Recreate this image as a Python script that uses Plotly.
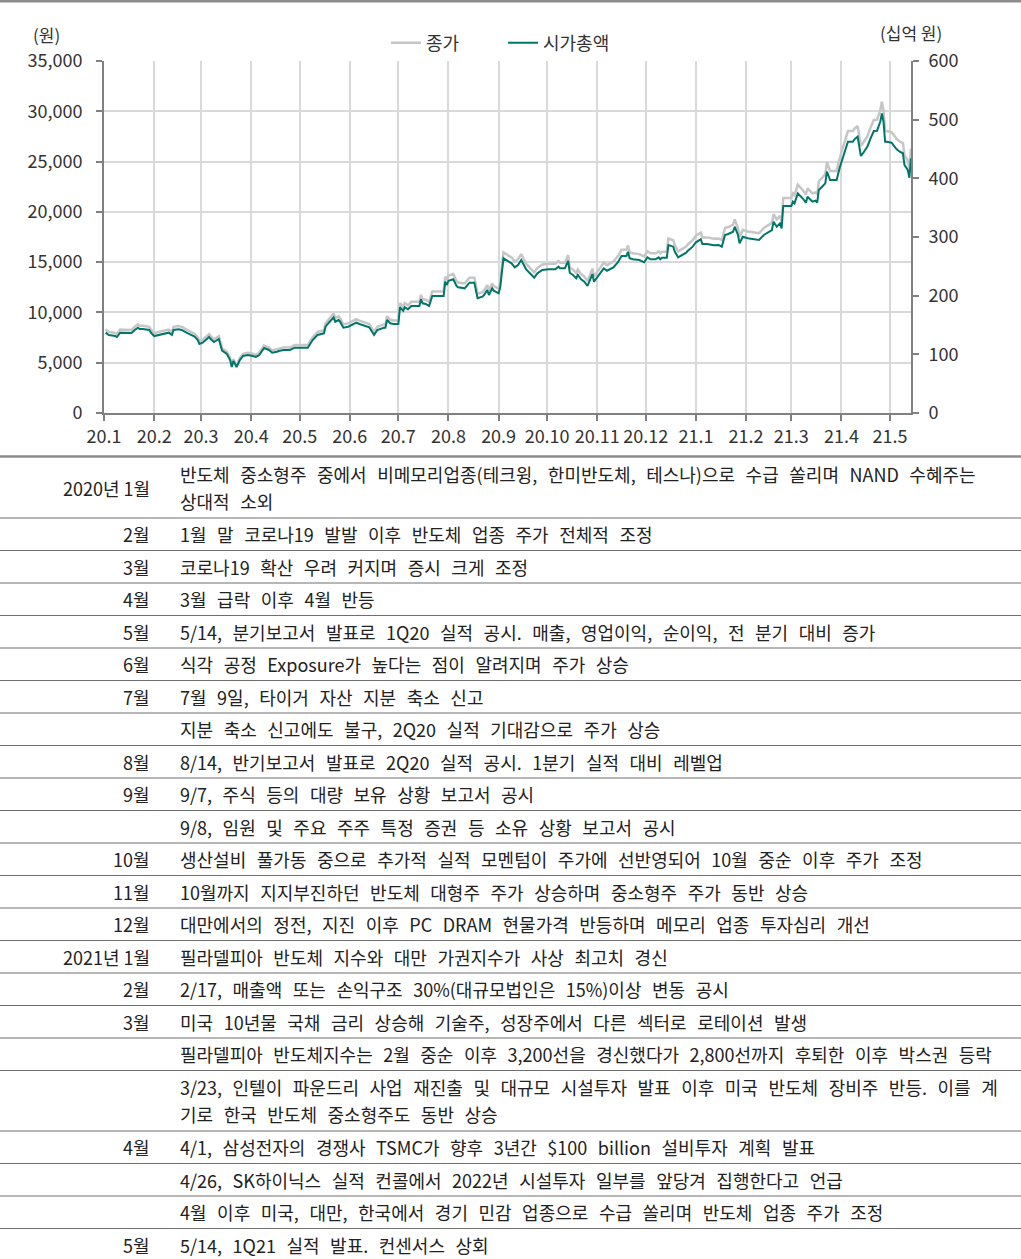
import plotly.graph_objects as go

W, H = 1021, 1259

# ---------------- data ----------------
dates = [
    "2020-01-02", "2020-01-04", "2020-01-08", "2020-01-09", "2020-01-11", "2020-01-14", "2020-01-18", "2020-01-20",
    "2020-01-22", "2020-01-23", "2020-01-25", "2020-01-29", "2020-01-30", "2020-02-01", "2020-02-04", "2020-02-07",
    "2020-02-10", "2020-02-12", "2020-02-13", "2020-02-16", "2020-02-18", "2020-02-21", "2020-02-24", "2020-02-26",
    "2020-02-28", "2020-02-29", "2020-03-02", "2020-03-06", "2020-03-07", "2020-03-09", "2020-03-12", "2020-03-13",
    "2020-03-14", "2020-03-17", "2020-03-19", "2020-03-20", "2020-03-21", "2020-03-23", "2020-03-25", "2020-03-27",
    "2020-03-30", "2020-04-02", "2020-04-04", "2020-04-06", "2020-04-09", "2020-04-12", "2020-04-14", "2020-04-17",
    "2020-04-18", "2020-04-21", "2020-04-23", "2020-04-24", "2020-04-25", "2020-04-28", "2020-05-02", "2020-05-06",
    "2020-05-09", "2020-05-12", "2020-05-16", "2020-05-17", "2020-05-19", "2020-05-22", "2020-05-23", "2020-05-25",
    "2020-05-26", "2020-05-28", "2020-05-31", "2020-06-02", "2020-06-05", "2020-06-07", "2020-06-10", "2020-06-13",
    "2020-06-16", "2020-06-18", "2020-06-22", "2020-06-23", "2020-06-24", "2020-06-26", "2020-06-28", "2020-07-01",
    "2020-07-02", "2020-07-04", "2020-07-05", "2020-07-07", "2020-07-09", "2020-07-11", "2020-07-14", "2020-07-15",
    "2020-07-16", "2020-07-18", "2020-07-20", "2020-07-22", "2020-07-25", "2020-07-29", "2020-07-30", "2020-07-31",
    "2020-08-01", "2020-08-04", "2020-08-06", "2020-08-07", "2020-08-11", "2020-08-14", "2020-08-17", "2020-08-19",
    "2020-08-22", "2020-08-23", "2020-08-25", "2020-08-26", "2020-08-28", "2020-08-29", "2020-09-01", "2020-09-02",
    "2020-09-04", "2020-09-05", "2020-09-07", "2020-09-09", "2020-09-11", "2020-09-13", "2020-09-15", "2020-09-18",
    "2020-09-21", "2020-09-23", "2020-09-25", "2020-09-28", "2020-10-02", "2020-10-06", "2020-10-08", "2020-10-09",
    "2020-10-12", "2020-10-14", "2020-10-15", "2020-10-17", "2020-10-19", "2020-10-20", "2020-10-22", "2020-10-24",
    "2020-10-26", "2020-10-28", "2020-10-29", "2020-10-30", "2020-11-01", "2020-11-03", "2020-11-05", "2020-11-07",
    "2020-11-09", "2020-11-11", "2020-11-14", "2020-11-16", "2020-11-19", "2020-11-20", "2020-11-21", "2020-11-23",
    "2020-11-27", "2020-11-30", "2020-12-02", "2020-12-04", "2020-12-07", "2020-12-09", "2020-12-10", "2020-12-11",
    "2020-12-14", "2020-12-15", "2020-12-18", "2020-12-19", "2020-12-21", "2020-12-24", "2020-12-26", "2020-12-27",
    "2020-12-30", "2021-01-01", "2021-01-04", "2021-01-05", "2021-01-08", "2021-01-12", "2021-01-15", "2021-01-17",
    "2021-01-19", "2021-01-21", "2021-01-24", "2021-01-25", "2021-01-27", "2021-01-28", "2021-01-30", "2021-02-02",
    "2021-02-05", "2021-02-09", "2021-02-12", "2021-02-15", "2021-02-17", "2021-02-18", "2021-02-20", "2021-02-22",
    "2021-02-23", "2021-02-24", "2021-02-26", "2021-03-01", "2021-03-02", "2021-03-03", "2021-03-05", "2021-03-08",
    "2021-03-10", "2021-03-11", "2021-03-14", "2021-03-16", "2021-03-17", "2021-03-18", "2021-03-20", "2021-03-22",
    "2021-03-23", "2021-03-25", "2021-03-27", "2021-03-29", "2021-03-31", "2021-04-03", "2021-04-05", "2021-04-08",
    "2021-04-09", "2021-04-11", "2021-04-13", "2021-04-14", "2021-04-17", "2021-04-19", "2021-04-21", "2021-04-23",
    "2021-04-25", "2021-04-26", "2021-04-27", "2021-04-28", "2021-04-29", "2021-05-02", "2021-05-04", "2021-05-05",
    "2021-05-07", "2021-05-09", "2021-05-10", "2021-05-12", "2021-05-13", "2021-05-14",
]

close_price = [  # 종가 (원)
    8290, 8060, 7950, 7850, 8290, 8260, 8260, 8570, 8810, 8680, 8680, 8570, 8290, 7950, 8060, 8160,
    8290, 8060, 8570, 8650, 8570, 8290, 8060, 7880, 7540, 7130, 7260, 7850, 7640, 7330, 7640, 7020,
    6440, 6090, 5470, 4750, 5370, 4750, 5470, 5890, 5990, 5890, 5780, 5990, 6710, 6510, 6230, 6330,
    6400, 6510, 6510, 6440, 6510, 6750, 6750, 6750, 7540, 8060, 8230, 8910, 9330, 9890, 9430, 9610,
    9430, 8810, 8910, 9090, 9330, 9190, 8990, 8850, 8060, 8570, 8810, 8810, 9610, 9270, 9190, 9190,
    10920, 10570, 10920, 10710, 11050, 11050, 11050, 11750, 11330, 11260, 11050, 12090, 12090, 12090, 13560, 13220,
    13670, 13810, 13120, 12980, 12880, 13460, 13460, 11850, 12010, 12190, 12710, 12190, 12880, 12630, 12370, 12980,
    15980, 15880, 15630, 15460, 15050, 15290, 15800, 14840, 14330, 13980, 14430, 14770, 14840, 14840, 15110, 14950,
    14950, 15700, 14490, 14260, 13910, 14260, 13810, 13560, 13120, 13910, 14360, 13560, 14020, 14430, 14950, 14700,
    14840, 15050, 15630, 16220, 16220, 16660, 15980, 15880, 15800, 15570, 16080, 15880, 15880, 16080, 15880, 16040,
    16040, 17350, 17180, 16660, 16080, 16320, 16560, 16770, 17180, 17630, 17940, 17460, 17460, 17320, 17350, 17180,
    18390, 18490, 18730, 19240, 18390, 17530, 18210, 18050, 17940, 17870, 18390, 18730, 18900, 19760, 19240, 19600,
    19080, 21380, 21380, 21380, 21830, 21660, 22700, 22180, 21720, 22340, 21830, 21930, 21720, 23040, 23380, 23730,
    24930, 24070, 24070, 24070, 25380, 26990, 28030, 28030, 28270, 28540, 26550, 26750, 27510, 28380, 29130, 29160,
    30090, 30960, 30090, 28030, 28030, 27920, 27510, 27270, 26990, 26830, 25620, 25100, 24310, 26310,
]

market_cap = [  # 시가총액 (십억 원)
    136.9, 133.0, 131.2, 129.5, 136.9, 136.4, 136.4, 141.5, 145.4, 143.2, 143.2, 141.5, 136.9, 131.2, 133.0, 134.7,
    136.9, 133.0, 141.5, 142.7, 141.5, 136.9, 133.0, 130.1, 124.4, 117.6, 119.8, 129.5, 126.1, 121.0, 126.1, 115.9,
    106.2, 100.6, 90.3, 78.4, 88.6, 78.4, 90.3, 97.2, 98.9, 97.2, 95.5, 98.9, 110.8, 107.4, 102.8, 104.5,
    105.7, 107.4, 107.4, 106.2, 107.4, 111.3, 111.3, 111.3, 124.4, 133.0, 135.8, 147.1, 153.9, 163.1, 155.6, 158.5,
    155.6, 145.4, 147.1, 150.0, 153.9, 151.7, 148.3, 146.1, 133.0, 141.5, 145.4, 145.4, 158.5, 152.9, 151.7, 151.7,
    180.2, 174.4, 180.2, 176.8, 182.4, 182.4, 182.4, 193.8, 187.0, 185.8, 182.4, 199.4, 199.4, 199.4, 223.8, 218.2,
    225.5, 227.9, 216.5, 214.3, 212.5, 222.1, 222.1, 195.5, 198.2, 201.1, 209.7, 201.1, 212.5, 208.5, 204.0, 214.3,
    263.7, 262.0, 257.9, 255.2, 248.3, 252.3, 260.8, 244.9, 236.4, 230.6, 238.1, 243.7, 244.9, 244.9, 249.4, 246.6,
    246.6, 259.1, 239.1, 235.2, 229.6, 235.2, 227.9, 223.8, 216.5, 229.6, 236.9, 223.8, 231.3, 238.1, 246.6, 242.5,
    244.9, 248.3, 257.9, 267.6, 267.6, 274.9, 263.7, 262.0, 260.8, 256.9, 265.4, 262.0, 262.0, 265.4, 262.0, 264.7,
    264.7, 286.4, 283.5, 274.9, 265.4, 269.3, 273.2, 276.6, 283.5, 291.0, 296.1, 288.1, 288.1, 285.8, 286.4, 283.5,
    303.4, 305.1, 309.0, 317.5, 303.4, 289.3, 300.5, 297.8, 296.1, 294.9, 303.4, 309.0, 311.9, 326.1, 317.5, 323.3,
    314.8, 352.8, 352.8, 352.8, 360.2, 357.4, 374.5, 366.0, 358.5, 368.7, 360.2, 361.9, 358.5, 380.1, 385.7, 391.5,
    411.3, 397.1, 397.1, 397.1, 418.8, 445.4, 462.4, 462.4, 466.5, 471.0, 438.1, 441.5, 453.9, 468.2, 480.7, 481.2,
    496.5, 510.8, 496.5, 462.4, 462.4, 460.7, 453.9, 450.0, 445.4, 442.7, 422.7, 414.2, 401.1, 434.1,
]

month_ticks = [
    "2020-01-01", "2020-02-01", "2020-03-01", "2020-04-01", "2020-05-01", "2020-06-01", "2020-07-01",
    "2020-08-01", "2020-09-01", "2020-10-01", "2020-11-01", "2020-12-01", "2021-01-01", "2021-02-01",
    "2021-03-01", "2021-04-01", "2021-05-01",
]
month_labels = [
    "20.1", "20.2", "20.3", "20.4", "20.5", "20.6", "20.7", "20.8", "20.9", "20.10", "20.11", "20.12",
    "21.1", "21.2", "21.3", "21.4", "21.5",
]

price_ticks = [0, 5000, 10000, 15000, 20000, 25000, 30000, 35000]
cap_ticks = [0, 100, 200, 300, 400, 500, 600]

row_labels = [
    "2020년 1월", "2월", "3월", "4월", "5월", "6월", "7월", "", "8월", "9월", "", "10월", "11월", "12월",
    "2021년 1월", "2월", "3월", "", "", "4월", "", "", "5월",
]
row_texts = [
    ["반도체 중소형주 중에서 비메모리업종(테크윙, 한미반도체, 테스나)으로 수급 쏠리며 NAND 수혜주는", "상대적 소외"],
    ["1월 말 코로나19 발발 이후 반도체 업종 주가 전체적 조정"],
    ["코로나19 확산 우려 커지며 증시 크게 조정"],
    ["3월 급락 이후 4월 반등"],
    ["5/14, 분기보고서 발표로 1Q20 실적 공시. 매출, 영업이익, 순이익, 전 분기 대비 증가"],
    ["식각 공정 Exposure가 높다는 점이 알려지며 주가 상승"],
    ["7월 9일, 타이거 자산 지분 축소 신고"],
    ["지분 축소 신고에도 불구, 2Q20 실적 기대감으로 주가 상승"],
    ["8/14, 반기보고서 발표로 2Q20 실적 공시. 1분기 실적 대비 레벨업"],
    ["9/7, 주식 등의 대량 보유 상황 보고서 공시"],
    ["9/8, 임원 및 주요 주주 특정 증권 등 소유 상황 보고서 공시"],
    ["생산설비 풀가동 중으로 추가적 실적 모멘텀이 주가에 선반영되어 10월 중순 이후 주가 조정"],
    ["10월까지 지지부진하던 반도체 대형주 주가 상승하며 중소형주 주가 동반 상승"],
    ["대만에서의 정전, 지진 이후 PC DRAM 현물가격 반등하며 메모리 업종 투자심리 개선"],
    ["필라델피아 반도체 지수와 대만 가권지수가 사상 최고치 경신"],
    ["2/17, 매출액 또는 손익구조 30%(대규모법인은 15%)이상 변동 공시"],
    ["미국 10년물 국채 금리 상승해 기술주, 성장주에서 다른 섹터로 로테이션 발생"],
    ["필라델피아 반도체지수는 2월 중순 이후 3,200선을 경신했다가 2,800선까지 후퇴한 이후 박스권 등락"],
    ["3/23, 인텔이 파운드리 사업 재진출 및 대규모 시설투자 발표 이후 미국 반도체 장비주 반등. 이를 계",
     "기로 한국 반도체 중소형주도 동반 상승"],
    ["4/1, 삼성전자의 경쟁사 TSMC가 향후 3년간 $100 billion 설비투자 계획 발표"],
    ["4/26, SK하이닉스 실적 컨콜에서 2022년 시설투자 일부를 앞당겨 집행한다고 언급"],
    ["4월 이후 미국, 대만, 한국에서 경기 민감 업종으로 수급 쏠리며 반도체 업종 주가 조정"],
    ["5/14, 1Q21 실적 발표. 컨센서스 상회"],
]

# ---------------- styling ----------------
FONT = "Noto Sans CJK KR"
TXT = "#333333"
TABLE_TXT = "#222222"
GRAY_LINE = "#c6c6c6"
GREEN = "#00766a"
GRID = "#d9d9d9"
AXIS = "#808080"


def px(x):
    return x / W


def py(y):
    return 1 - y / H


PLOT_L, PLOT_R, PLOT_T, PLOT_B = 104, 911, 61, 413

fig = go.Figure()
fig.add_trace(go.Scatter(
    x=dates, y=close_price, name="종가", mode="lines",
    line=dict(color=GRAY_LINE, width=2.5), yaxis="y",
))
fig.add_trace(go.Scatter(
    x=dates, y=market_cap, name="시가총액", mode="lines",
    line=dict(color=GREEN, width=2), yaxis="y2",
))

fig.update_layout(
    width=W, height=H, autosize=False,
    margin=dict(l=0, r=0, t=0, b=0),
    paper_bgcolor="white", plot_bgcolor="white",
    font=dict(family=FONT, size=18, color=TXT),
    showlegend=True,
    legend=dict(
        orientation="h", x=px(386), xanchor="left", y=py(43), yanchor="middle",
        font=dict(size=18, color=TXT), bgcolor="rgba(0,0,0,0)",
        entrywidth=72, entrywidthmode="pixels", borderwidth=0,
    ),
    xaxis=dict(
        domain=[px(PLOT_L), px(PLOT_R)], type="date",
        range=["2020-01-01", "2021-05-14"],
        tickmode="array", tickvals=month_ticks, ticktext=month_labels,
        showgrid=True, gridcolor=GRID, gridwidth=2,
        showline=True, linecolor=AXIS, linewidth=2,
        ticks="outside", ticklen=6, tickcolor=AXIS, tickwidth=1.5,
        tickfont=dict(size=18, color=TXT), automargin=False, zeroline=False,
        anchor="y",
    ),
    yaxis=dict(
        domain=[py(PLOT_B), py(PLOT_T)], range=[0, 35000],
        tickmode="array", tickvals=price_ticks,
        ticktext=[f"{v:,}" for v in price_ticks],
        showgrid=True, gridcolor=GRID, gridwidth=2,
        showline=True, linecolor=AXIS, linewidth=2,
        ticks="outside", ticklen=6, tickcolor=AXIS, tickwidth=1.5,
        tickfont=dict(size=18, color=TXT), automargin=False, zeroline=False,
        ticklabelstandoff=10,
    ),
    yaxis2=dict(
        overlaying="y", side="right", range=[0, 600],
        tickmode="array", tickvals=cap_ticks, ticktext=[str(v) for v in cap_ticks],
        showgrid=False, showline=True, linecolor=AXIS, linewidth=2,
        ticks="outside", ticklen=6, tickcolor=AXIS, tickwidth=1.5,
        tickfont=dict(size=18, color=TXT), automargin=False, zeroline=False,
        ticklabelstandoff=6, anchor="x",
    ),
)

annotations = [
    dict(text="(원)", x=px(46), y=py(35), xref="paper", yref="paper",
         showarrow=False, xanchor="center", yanchor="middle", font=dict(size=17, color=TXT)),
    dict(text="(십억 원)", x=px(911), y=py(33), xref="paper", yref="paper",
         showarrow=False, xanchor="center", yanchor="middle", font=dict(size=17, color=TXT)),
]
shapes = [
    dict(type="line", xref="paper", yref="paper", x0=0, x1=1, y0=py(1), y1=py(1),
         line=dict(color="#8c8c8c", width=3)),
    dict(type="line", xref="paper", yref="paper", x0=0, x1=1, y0=py(456.5), y1=py(456.5),
         line=dict(color="#8c8c8c", width=2.5)),
]

# ---------------- table ----------------
LINE_H = 27.0
SINGLE_H = 32.5
top = 457.5
for i, (lab, lines) in enumerate(zip(row_labels, row_texts)):
    n = len(lines)
    h = SINGLE_H if n == 1 else SINGLE_H + LINE_H * (n - 1) + 1
    cy = top + h / 2
    if lab:
        annotations.append(dict(
            text=lab, x=px(152), y=py(cy), xref="paper", yref="paper", showarrow=False,
            xanchor="right", yanchor="middle", align="right",
            font=dict(size=18, color=TABLE_TXT),
        ))
    for j, t in enumerate(lines):
        ly = cy + (j - (n - 1) / 2) * LINE_H
        annotations.append(dict(
            text=t, x=px(178), y=py(ly), xref="paper", yref="paper", showarrow=False,
            xanchor="left", yanchor="middle", align="left",
            font=dict(size=18, color=TABLE_TXT),
        ))
    top += h
    if i < len(row_labels) - 1:
        shapes.append(dict(type="line", xref="paper", yref="paper", x0=0, x1=1,
                           y0=py(top), y1=py(top), line=dict(color="#6e6e6e", width=1)))

fig.update_layout(annotations=annotations, shapes=shapes)

post = """
document.body.style.margin = '0px';
var gd = document.getElementById('{plot_id}');
gd.querySelectorAll('g.annotation text.annotation-text').forEach(function (t) {
    if (t.getAttribute('text-anchor') === 'start') { t.style.wordSpacing = '6.5px'; }
});
"""
fig.write_html("out.html", post_script=post, config={"displayModeBar": False})
